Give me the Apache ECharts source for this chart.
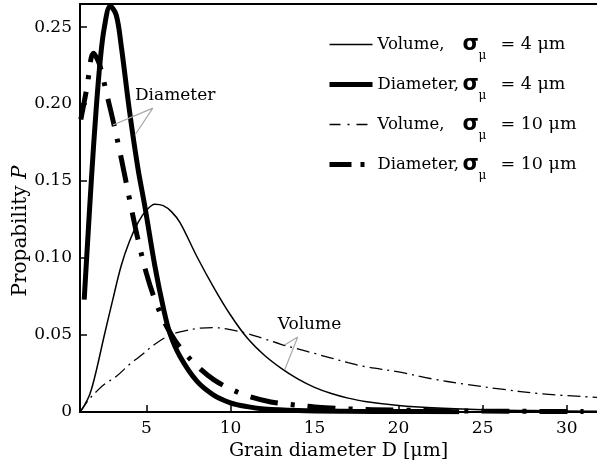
<!DOCTYPE html>
<html><head><meta charset="utf-8">
<script src="https://cdn.jsdelivr.net/npm/echarts@6/dist/echarts.min.js"></script>
<style>html,body{margin:0;padding:0;background:#fff}#c{width:597px;height:471px}</style>
</head><body><div id="c"></div>
<script>
// ---- data ----
const volS4X  = [1.05, 1.3, 1.65, 2.0, 2.5, 3.0, 3.5, 4.0, 4.5, 5.0, 5.5, 6.0, 6.5, 7.0, 8.0, 9.0, 10.0, 11.0, 12.0, 13.0, 14.0, 15.0, 16.0, 17.0, 18.0, 20.0, 22.0, 25.0, 28.0, 31.8];
const volS4Y  = [0.000, 0.004, 0.012, 0.026, 0.050, 0.073, 0.095, 0.111, 0.123, 0.131, 0.135, 0.134, 0.130, 0.123, 0.101, 0.081, 0.063, 0.048, 0.037, 0.0285, 0.0215, 0.016, 0.012, 0.009, 0.0068, 0.0042, 0.0027, 0.0015, 0.0009, 0.0005];

const diaS4X  = [1.3, 1.5, 1.75, 2.0, 2.25, 2.5, 2.85, 3.2, 3.5, 4.0, 4.5, 4.9, 5.5, 6.0, 6.4, 7.0, 8.0, 9.0, 10.0, 11.0, 12.0, 14.0, 17.0, 20.0, 23.6];
const diaS4Y  = [0.073, 0.110, 0.155, 0.195, 0.228, 0.250, 0.2635, 0.258, 0.238, 0.195, 0.158, 0.134, 0.095, 0.068, 0.051, 0.036, 0.020, 0.011, 0.006, 0.0035, 0.002, 0.001, 0.0005, 0.0003, 0.0002];

const volS10X = [1.05, 1.3, 1.65, 2.0, 2.5, 3.2, 4.0, 4.6, 5.5, 6.4, 7.0, 8.2, 9.0, 10.0, 11.0, 12.0, 13.0, 14.0, 15.0, 16.0, 17.0, 18.0, 20.0, 22.0, 24.0, 26.0, 28.5, 31.8];
const volS10Y = [0.000, 0.004, 0.009, 0.013, 0.018, 0.023, 0.031, 0.036, 0.044, 0.050, 0.052, 0.0545, 0.0548, 0.0535, 0.051, 0.0475, 0.044, 0.041, 0.038, 0.035, 0.032, 0.0295, 0.026, 0.0215, 0.018, 0.015, 0.0118, 0.0095];

const diaS10X = [1.1, 1.45, 1.85, 2.2, 2.65, 3.0, 3.5, 4.0, 4.5, 5.0, 5.5, 6.0, 6.5, 7.0, 8.0, 9.0, 10.0, 11.0, 12.4, 13.5, 15.0, 17.0, 20.0, 25.0, 31.0];
const diaS10Y = [0.190, 0.210, 0.233, 0.226, 0.206, 0.190, 0.165, 0.138, 0.112, 0.090, 0.073, 0.060, 0.050, 0.042, 0.030, 0.021, 0.015, 0.0105, 0.0065, 0.005, 0.0033, 0.002, 0.0012, 0.0006, 0.0003];

const seriesNames = ['Volume, σμ = 4 μm', 'Diameter, σμ = 4 μm', 'Volume, σμ = 10 μm', 'Diameter, σμ = 10 μm'];
const legendParts = [['Volume,', '4 μm'], ['Diameter,', '4 μm'], ['Volume,', '10 μm'], ['Diameter,', '10 μm']];

const xTicks = [5, 10, 15, 20, 25, 30];
const yTicks = [0, 0.05, 0.10, 0.15, 0.20, 0.25];

// annotation callouts (data coordinates)
const diaNoteText = 'Diameter';
const diaNoteAt = [4.32, 0.2058];
const diaNoteLine = [[3.01, 0.1864], [5.38, 0.1974], [4.32, 0.1799]];
const volNoteText = 'Volume';
const volNoteAt = [12.81, 0.0565];
const volNoteLine = [[13.22, 0.0435], [14.0, 0.0487], [13.22, 0.0273]];

// ---- chart ----
const FONT = 'DejaVu Serif';
const zip = (xs, ys) => xs.map((x, i) => [x, ys[i]]);
const chart = echarts.init(document.getElementById('c'), null, {renderer: 'canvas'});

const xCommon = {type: 'value', min: 1.05, max: 31.8, splitLine: {show: false}};
const legendRich = {
  a: {fontFamily: FONT, fontSize: 16.5, color: '#000', width: 85},
  s: {fontFamily: 'DejaVu Sans', fontSize: 21, fontWeight: 'bold', color: '#000', width: 16},
  sub: {fontFamily: FONT, fontSize: 12, color: '#000', padding: [22, 0, 0, 0], width: 14},
  t: {fontFamily: FONT, fontSize: 17.5, color: '#000', padding: [0, 0, 0, 8]}
};
const lineBase = {type: 'line', symbol: 'none', smooth: 0.35, itemStyle: {color: '#000'}};

chart.setOption({
  animation: false,
  backgroundColor: '#fff',
  grid: {left: 80, right: 0, top: 4, bottom: 59, containLabel: false, outerBoundsMode: 'none'},
  legend: {
    orient: 'vertical', left: 322, top: 29, itemWidth: 43, itemHeight: 14, itemGap: 12.5,
    selectedMode: false,
    itemStyle: {opacity: 0},
    data: [
      {name: seriesNames[0], lineStyle: {width: 1.5}},
      {name: seriesNames[1], lineStyle: {width: 5}},
      {name: seriesNames[2], lineStyle: {width: 1.3, type: [11, 7, 2, 7]}},
      {name: seriesNames[3], lineStyle: {width: 5, type: [22, 9, 4, 20]}}
    ],
    formatter: function (name) {
      const p = legendParts[seriesNames.indexOf(name)];
      return '{a|' + p[0] + '}{s|σ}{sub|μ}{t|= ' + p[1] + '}';
    },
    textStyle: {rich: legendRich, color: '#000'}
  },
  xAxis: [
    Object.assign({}, xCommon, {
      position: 'bottom',
      name: 'Grain diameter D [μm]', nameLocation: 'middle', nameGap: 29,
      nameTextStyle: {fontFamily: FONT, fontSize: 19, color: '#000'},
      axisLine: {show: true, onZero: false, lineStyle: {color: '#000', width: 2}},
      axisTick: {show: true, inside: true, length: 7, customValues: xTicks, lineStyle: {color: '#000', width: 1.5}},
      axisLabel: {customValues: xTicks, margin: 8, fontFamily: FONT, fontSize: 17, color: '#000'}
    }),
    Object.assign({}, xCommon, {
      position: 'top',
      axisLine: {show: true, onZero: false, lineStyle: {color: '#000', width: 2}},
      axisTick: {show: false}, axisLabel: {show: false}
    })
  ],
  yAxis: {
    type: 'value', min: 0, max: 0.265, splitLine: {show: false},
    name: 'Propability {i|P}', nameLocation: 'middle', nameGap: 49, nameRotate: 90, nameMoveOverlap: false,
    nameTextStyle: {fontFamily: FONT, fontSize: 20, color: '#000', padding: [0, 46, 0, 0],
      rich: {i: {fontFamily: FONT, fontSize: 20, fontStyle: 'italic', color: '#000'}}},
    axisLine: {show: true, onZero: false, lineStyle: {color: '#000', width: 2}},
    axisTick: {show: true, inside: true, length: 7, customValues: yTicks, lineStyle: {color: '#000', width: 1.5}},
    axisLabel: {customValues: yTicks, margin: 8, fontFamily: FONT, fontSize: 17, color: '#000',
      formatter: v => (v === 0 ? '0' : v.toFixed(2))}
  },
  series: [
    Object.assign({}, lineBase, {name: seriesNames[0], data: zip(volS4X, volS4Y),
      lineStyle: {color: '#000', width: 1.5}}),
    Object.assign({}, lineBase, {name: seriesNames[2], data: zip(volS10X, volS10Y),
      lineStyle: {color: '#000', width: 1.3, type: [13, 5, 2, 5]}}),
    Object.assign({}, lineBase, {name: seriesNames[1], data: zip(diaS4X, diaS4Y),
      lineStyle: {color: '#000', width: 5}}),
    Object.assign({}, lineBase, {name: seriesNames[3], data: zip(diaS10X, diaS10Y),
      lineStyle: {color: '#000', width: 5, type: [28, 13, 4, 13]}}),
    {type: 'line', data: diaNoteLine, symbol: 'none', silent: true, lineStyle: {color: '#a8a8a8', width: 1.2}, z: 5},
    {type: 'line', data: volNoteLine, symbol: 'none', silent: true, lineStyle: {color: '#a8a8a8', width: 1.2}, z: 5},
    {type: 'scatter', symbolSize: 0, silent: true, z: 6, itemStyle: {opacity: 1},
      data: [{name: diaNoteText, value: diaNoteAt}, {name: volNoteText, value: volNoteAt}],
      label: {show: true, position: 'right', distance: 0, formatter: p => p.name,
        fontFamily: FONT, fontSize: 17, color: '#000', opacity: 1}}
  ]
});
</script></body></html>
